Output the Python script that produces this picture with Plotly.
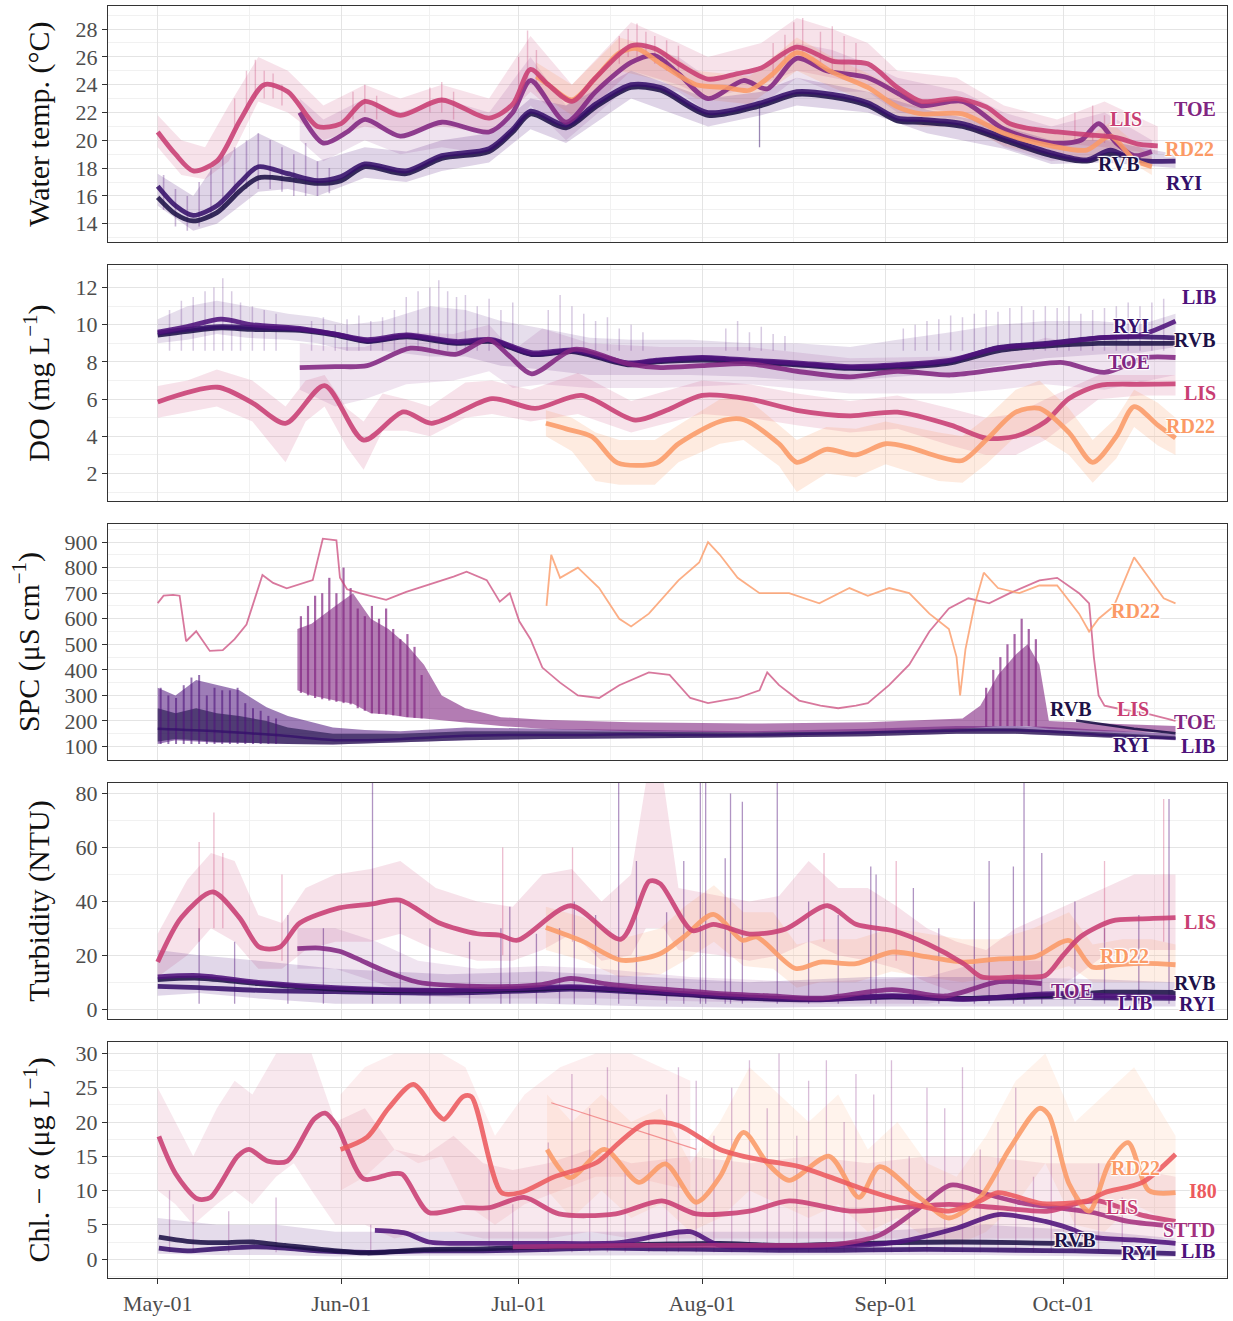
import pandas as pd
import plotly.graph_objects as go
from plotly.subplots import make_subplots

BASE = pd.Timestamp("2021-05-01")

SITE_COLORS = {
    "RVB": "#1d1147", "RYI": "#35106a", "LIB": "#4f127b", "TOE": "#812581",
    "STTD": "#a3307e", "LIS": "#c83e73", "I80": "#ec5a5e", "RD22": "#fb9a66",
}

# ---------------- Water temperature (deg C) ----------------
T_LIS_DAYS = [0, 3, 6, 10, 14, 18, 22, 27, 31, 35, 41, 48, 56, 60, 63, 66, 70, 74, 80, 84, 88, 93, 98, 102, 108, 114, 120, 125, 129, 135, 140, 144, 148, 152, 157, 162, 166, 169]
T_LIS = [20.6, 19.0, 17.8, 18.5, 21.5, 24.0, 23.5, 21.0, 21.2, 22.8, 21.8, 22.9, 21.6, 22.6, 25.1, 24.0, 22.8, 24.5, 26.8, 26.6, 25.5, 24.4, 24.8, 25.2, 26.7, 25.7, 25.5, 23.8, 22.8, 23.0, 22.4, 21.2, 20.8, 20.6, 20.4, 20.2, 19.7, 19.6]
T_LIS_RAW_DAYS = [0, 4, 8, 12, 17, 22, 28, 35, 41, 48, 56, 63, 70, 80, 88, 93, 102, 108, 114, 120, 125, 135, 143, 152, 160, 169]
T_LIS_LO = [19.5, 17.5, 17.2, 18.5, 22.8, 22.0, 20.0, 21.0, 20.5, 21.0, 20.5, 23.5, 21.0, 25.0, 24.0, 23.0, 24.0, 25.0, 24.5, 24.0, 22.5, 22.0, 20.3, 19.8, 19.5, 19.0]
T_LIS_HI = [21.8, 20.0, 19.5, 22.5, 26.0, 25.0, 22.5, 24.0, 23.0, 24.0, 23.0, 27.5, 24.0, 28.5, 27.0, 26.0, 27.0, 28.8, 28.0, 27.0, 25.0, 24.5, 22.5, 21.5, 22.8, 21.0]
T_PINK_SPIKE_DAYS = [13, 15, 16.5, 18, 19.5, 21, 33, 35, 37, 46, 48, 50, 61, 62.5, 64, 78, 79.5, 81, 82.5, 84, 86, 88, 104, 106, 107.5, 109, 112, 114, 116, 118, 155, 158, 160]
T_PINK_SPIKE_TOP = [23.0, 25.0, 25.8, 25.0, 24.8, 24.0, 23.5, 24.0, 23.2, 23.8, 24.2, 23.5, 26.0, 27.9, 26.5, 27.5, 28.0, 28.4, 27.8, 27.5, 27.2, 26.8, 27.0, 27.6, 28.5, 28.8, 27.8, 28.2, 27.5, 27.0, 22.0, 22.5, 21.8]
T_PINK_SPIKE_BASE = [20.5, 22.0, 23.0, 23.0, 23.0, 22.5, 21.5, 22.0, 21.5, 22.0, 22.0, 21.5, 22.5, 24.0, 24.0, 25.5, 26.0, 26.0, 26.0, 25.5, 25.0, 24.5, 24.5, 25.5, 26.0, 26.0, 25.5, 25.0, 25.0, 24.5, 20.0, 20.0, 19.8]

T_TOE_DAYS = [24, 28, 32, 35, 41, 48, 56, 60, 63, 69, 74, 80, 84, 88, 93, 99, 103, 108, 113, 120, 125, 129, 136, 143, 151, 156, 159, 162, 165, 168]
T_TOE = [22.0, 19.8, 20.6, 21.5, 20.3, 21.3, 20.6, 22.0, 24.3, 21.3, 23.5, 25.6, 26.1, 24.8, 23.0, 24.3, 23.7, 25.9, 25.0, 24.5, 23.4, 22.5, 22.8, 20.8, 19.8, 20.0, 21.2, 19.8, 18.9, 19.2]
T_TOE_RAW_DAYS = [24, 28, 35, 41, 48, 56, 63, 69, 80, 88, 93, 102, 108, 114, 120, 125, 136, 143, 151, 160, 168]
T_TOE_LO = [20.0, 18.5, 20.0, 19.0, 19.5, 19.0, 22.5, 20.0, 24.0, 23.5, 22.0, 22.5, 24.5, 23.5, 23.5, 22.0, 21.5, 19.5, 18.5, 19.0, 18.5]
T_TOE_HI = [23.0, 21.5, 23.0, 22.0, 23.0, 22.0, 26.0, 22.5, 27.0, 26.0, 24.5, 25.0, 27.0, 26.5, 25.5, 24.5, 23.5, 22.0, 21.0, 22.0, 20.0]

T_RD22_DAYS = [64, 66, 70, 74, 78, 81, 85, 91, 96, 100, 104, 108, 114, 120, 125, 129, 136, 143, 151, 157, 161, 165, 168]
T_RD22 = [24.6, 24.0, 22.9, 24.5, 26.3, 26.6, 25.5, 24.0, 23.8, 23.6, 24.8, 26.3, 24.9, 23.8, 22.4, 21.9, 21.9, 20.5, 19.6, 19.3, 20.3, 18.6, 18.1]
T_RD22_RAW_DAYS = [64, 70, 78, 85, 91, 100, 108, 114, 120, 129, 136, 143, 151, 157, 161, 168]
T_RD22_LO = [23.5, 21.8, 25.0, 24.3, 23.0, 22.6, 25.0, 23.8, 22.8, 21.0, 21.0, 19.6, 18.8, 18.5, 19.3, 17.5]
T_RD22_HI = [25.6, 24.0, 27.4, 26.6, 25.0, 24.6, 27.4, 26.0, 24.8, 22.9, 22.9, 21.5, 20.5, 20.2, 21.3, 18.8]

T_RYI_DAYS = [0, 3, 6, 10, 14, 17, 22, 27, 31, 35, 42, 48, 56, 60, 63, 69, 74, 80, 85, 93, 102, 108, 114, 120, 125, 129, 136, 143, 151, 157, 161, 165, 172]
T_RYI = [16.7, 15.3, 14.6, 15.3, 17.0, 18.1, 17.6, 17.1, 17.4, 18.3, 17.8, 18.9, 19.4, 20.8, 22.1, 21.1, 22.6, 24.0, 23.8, 22.0, 22.7, 23.5, 23.3, 22.7, 21.6, 21.5, 21.2, 20.2, 19.1, 18.6, 19.3, 18.6, 18.5]
T_RVB_DAYS = [0, 3, 6, 10, 14, 17, 22, 27, 31, 35, 42, 48, 56, 60, 63, 69, 74, 80, 85, 93, 102, 108, 114, 120, 125, 129, 136, 143, 151, 157, 161, 166]
T_RVB = [15.9, 14.7, 14.2, 14.8, 16.4, 17.3, 17.2, 16.9, 17.1, 18.1, 17.6, 18.7, 19.2, 20.6, 21.9, 20.9, 22.4, 23.8, 23.6, 21.8, 22.5, 23.3, 23.1, 22.5, 21.4, 21.3, 21.0, 20.0, 18.9, 18.5, 19.0, 18.6]
T_DARK_RAW_DAYS = [0, 6, 10, 17, 22, 27, 35, 42, 48, 56, 63, 69, 80, 93, 102, 108, 120, 130, 143, 151, 160, 172]
T_DARK_LO = [15.3, 13.5, 14.0, 16.3, 16.5, 16.0, 17.3, 17.0, 17.8, 18.4, 20.8, 19.8, 23.0, 21.0, 21.8, 22.5, 22.0, 20.5, 19.4, 18.3, 18.4, 18.0]
T_DARK_HI = [17.6, 16.0, 18.5, 20.5, 19.5, 18.5, 19.5, 19.2, 20.0, 20.5, 23.0, 22.5, 25.0, 23.0, 23.5, 24.5, 23.5, 22.2, 21.0, 20.0, 20.0, 19.0]
T_DARK_SPIKE_DAYS = [1, 3, 5, 7, 9, 11, 13, 15, 17, 19, 21, 23, 25, 27, 29]
T_DARK_SPIKE_TOP = [17.5, 16.5, 16.0, 17.0, 18.0, 19.0, 19.5, 20.0, 20.5, 20.0, 19.5, 19.0, 19.8, 18.5, 18.0]
T_DARK_SPIKE_BASE = [15.0, 13.8, 13.5, 13.8, 14.5, 15.0, 16.0, 16.5, 16.5, 16.5, 16.3, 16.0, 16.0, 16.0, 16.2]

T_LABEL_SITES = ["LIS", "TOE", "RD22", "RVB", "RYI"]
T_LABEL_DAYS = [163.6, 175.3, 174.4, 162.4, 173.4]
T_LABEL_VALUES = [21.55, 22.26, 19.35, 18.28, 16.93]

# ---------------- Dissolved oxygen (mg/L) ----------------
D_DARK_DAYS = [0, 5, 10.7, 16, 24, 30, 35.4, 42.1, 50.5, 56.5, 63.2, 70.4, 79.5, 84.3, 92, 100, 108, 117, 125, 134, 142, 150, 159, 166, 172]
D_LIB = [9.6, 9.9, 10.3, 10.0, 9.8, 9.5, 9.2, 9.45, 9.1, 9.2, 8.5, 8.65, 7.95, 8.1, 8.25, 8.1, 7.95, 7.75, 7.85, 8.1, 8.75, 8.95, 9.3, 9.45, 10.2]
D_RYI = [9.55, 9.75, 9.9, 9.85, 9.75, 9.5, 9.13, 9.4, 9.04, 9.16, 8.42, 8.6, 7.9, 8.06, 8.2, 8.05, 7.9, 7.7, 7.8, 8.05, 8.77, 9.0, 9.3, 9.35, 9.3]
D_RVB = [9.45, 9.65, 9.83, 9.75, 9.7, 9.45, 9.1, 9.35, 9.0, 9.1, 8.4, 8.55, 7.85, 8.0, 8.1, 8.0, 7.85, 7.65, 7.7, 7.95, 8.6, 8.85, 9.0, 9.0, 9.0]
D_DARK_RAW_DAYS = [0, 5, 10, 15, 22, 27, 32, 38, 46, 52, 58, 65, 73, 80, 90, 100, 108, 117, 125, 134, 142, 150, 159, 166, 172]
D_DARK_LO = [9.0, 9.2, 9.5, 9.3, 9.2, 9.0, 8.6, 8.6, 8.3, 8.3, 7.8, 7.6, 7.3, 7.3, 7.3, 7.2, 7.0, 7.0, 7.2, 7.4, 7.8, 8.2, 8.4, 8.5, 8.8]
D_DARK_HI = [10.3, 11.0, 11.3, 11.0, 10.6, 10.4, 10.0, 10.2, 11.0, 10.8, 10.2, 9.8, 9.3, 9.2, 9.2, 9.0, 9.0, 8.8, 9.2, 9.6, 10.0, 10.2, 10.2, 10.0, 10.6]
D_SPIKE_DAYS = [2, 4, 6, 8, 9.5, 11, 12.5, 14, 16, 18, 20, 26, 28, 30, 32, 34, 36, 38, 40, 42, 44, 46, 47.5, 49, 50.5, 52, 54, 56, 58, 60, 66, 68, 70, 72, 74, 76, 78, 80, 82, 96, 98, 100, 102, 104, 106, 126, 128, 130, 132, 134, 136, 138, 140, 142, 144, 146, 148, 150, 152, 154, 156, 158, 160, 162, 164, 166, 168, 170]
D_SPIKE_TOP = [10.8, 11.3, 11.5, 11.8, 12.0, 12.5, 11.8, 11.2, 11.0, 10.8, 10.6, 10.2, 10.4, 10.0, 10.3, 10.5, 10.2, 10.4, 10.8, 11.5, 11.8, 12.0, 12.4, 11.8, 11.5, 11.6, 11.0, 11.4, 10.8, 11.2, 10.8, 11.6, 11.0, 10.6, 10.2, 10.4, 9.8, 10.0, 9.6, 9.8, 10.2, 9.6, 9.9, 9.5, 9.4, 9.8, 10.0, 10.2, 10.3, 10.5, 10.4, 10.6, 10.8, 10.7, 10.9, 11.0, 10.8, 11.0, 10.9, 11.0, 10.6, 10.8, 10.9, 11.0, 11.2, 11.0, 11.2, 11.4]

D_TOE_DAYS = [24, 30, 35.4, 42.7, 50.5, 55.9, 59.5, 63.2, 70.4, 79.5, 85, 92, 100, 108, 117, 125, 134, 142, 147, 153, 160, 167, 172]
D_TOE = [7.7, 7.75, 7.8, 8.74, 8.42, 9.22, 8.3, 7.36, 8.68, 7.9, 7.7, 7.8, 7.9, 7.5, 7.2, 7.5, 7.3, 7.6, 7.8, 7.97, 7.44, 8.24, 8.24]
D_TOE_RAW_DAYS = [24, 30, 35, 42, 50, 56, 60, 65, 73, 85, 100, 117, 134, 142, 150, 160, 172]
D_TOE_LO = [6.5, 5.6, 6.0, 6.8, 7.0, 7.5, 6.6, 6.8, 6.6, 6.6, 6.8, 6.3, 6.3, 6.5, 6.8, 6.5, 7.3]
D_TOE_HI = [9.0, 8.8, 8.8, 9.6, 9.5, 10.0, 8.6, 9.8, 9.0, 8.8, 8.8, 8.2, 8.3, 8.5, 9.3, 8.8, 9.2]

D_LIS_DAYS = [0, 10.1, 16, 21.6, 28.2, 34.8, 41.5, 46.3, 56.5, 63.8, 71.6, 80.7, 86, 92, 100, 108, 117, 125, 134, 140, 145, 150, 154, 159, 166, 172]
D_LIS = [5.85, 6.64, 5.8, 4.7, 6.73, 3.8, 5.31, 4.7, 6.03, 5.5, 6.2, 4.87, 5.4, 6.2, 6.0, 5.4, 5.1, 5.3, 4.6, 3.9, 4.0, 4.78, 6.03, 6.73, 6.8, 6.82]
D_LIS_RAW_DAYS = [0, 5, 10, 16, 21.6, 25, 28.2, 32, 34.8, 38, 42, 46, 52, 56.5, 63, 71, 80, 92, 100, 108, 117, 125, 134, 140, 145, 150, 159, 166, 172]
D_LIS_LO = [5.0, 5.3, 5.6, 4.8, 2.6, 4.8, 5.6, 3.4, 2.2, 4.3, 4.3, 4.0, 5.0, 5.2, 4.8, 5.2, 4.2, 5.2, 5.0, 4.6, 4.2, 4.4, 3.5, 3.0, 3.0, 3.8, 6.0, 6.2, 6.2]
D_LIS_HI = [6.7, 7.0, 7.6, 7.0, 5.6, 7.0, 7.3, 5.5, 4.8, 6.3, 6.0, 5.6, 6.9, 7.0, 6.5, 7.4, 5.9, 7.0, 6.8, 6.3, 5.9, 6.2, 5.5, 5.0, 5.2, 6.0, 7.3, 7.3, 7.3]

D_RD22_DAYS = [65.6, 69, 73.4, 77.7, 84.3, 88, 95, 99, 105, 108, 113, 118, 123, 127, 132, 136, 140, 145, 149, 154, 158, 162, 165, 169, 172]
D_RD22 = [4.7, 4.4, 3.98, 2.57, 2.57, 3.6, 4.8, 4.9, 3.6, 2.6, 3.3, 3.0, 3.6, 3.4, 2.9, 2.7, 3.8, 5.3, 5.5, 4.2, 2.6, 4.0, 5.6, 4.6, 3.9]
D_RD22_RAW_DAYS = [65.6, 70, 74, 78, 84, 88, 95, 99, 105, 108, 113, 118, 123, 132, 136, 140, 145, 149, 154, 158, 162, 165, 169, 172]
D_RD22_LO = [4.0, 3.2, 1.6, 1.4, 1.4, 2.6, 3.6, 3.8, 2.4, 1.0, 2.0, 1.8, 2.5, 1.6, 1.5, 2.5, 4.0, 4.0, 3.0, 1.5, 2.8, 4.5, 3.5, 3.0]
D_RD22_HI = [5.4, 5.0, 4.2, 3.8, 3.8, 4.6, 6.0, 6.2, 4.6, 3.8, 4.5, 4.4, 4.8, 4.2, 4.0, 5.0, 6.5, 7.0, 5.5, 3.8, 5.0, 6.5, 5.8, 5.0]

D_LABEL_SITES = ["LIB", "RYI", "RVB", "TOE", "LIS", "RD22"]
D_LABEL_DAYS = [176.0, 164.5, 175.3, 164.1, 176.1, 174.6]
D_LABEL_VALUES = [11.52, 9.93, 9.18, 8.01, 6.31, 4.55]

# ---------------- Specific conductance (uS/cm) ----------------
S_LIS_DAYS = [0, 1, 2.6, 3.7, 4.8, 6.5, 8.8, 11, 13, 15, 17.7, 19.5, 21.8, 24, 26.2, 27.9, 30.2, 30.8, 32, 34.1, 36, 38.6, 42, 46.5, 50, 52.2, 55.6, 57.8, 59.5, 61.1, 63, 65, 68, 71, 74.6, 78, 83, 86.5, 90, 93, 98, 101.7, 103, 105, 108.4, 112, 115, 118, 120, 123.6, 127, 130.4, 133.7, 137, 140.5, 144, 149, 152, 155.7, 157.4, 158.2, 159, 160, 163, 167, 172]
S_LIS = [661, 690, 693, 690, 512, 551, 474, 477, 520, 577, 771, 740, 719, 735, 751, 913, 907, 760, 715, 700, 690, 674, 705, 738, 765, 784, 751, 667, 700, 590, 520, 409, 350, 300, 290, 340, 390, 380, 290, 270, 290, 320, 390, 340, 280, 260, 250, 260, 270, 340, 420, 550, 640, 680, 660, 700, 750, 760, 700, 660, 450, 300, 260, 245, 230, 200]

S_RD22_DAYS = [65.7, 66.5, 68, 71, 74.6, 78, 80, 83, 88, 91.5, 93, 95, 98, 101.7, 106.7, 111.8, 116.9, 120, 123.6, 127, 130.4, 133.7, 135, 135.6, 136.5, 138, 139.6, 142, 145.6, 149, 152, 155.7, 157.4, 159, 161.6, 165, 167.5, 170, 172]
S_RD22 = [650, 850, 760, 800, 720, 600, 570, 620, 750, 820, 900, 850, 760, 700, 700, 660, 720, 690, 720, 700, 620, 560, 450, 300, 480, 650, 780, 720, 700, 730, 730, 620, 550, 600, 650, 840, 760, 680, 660]

S_TOE_DAYS = [23.6, 26, 30, 33, 36, 39, 42, 45, 48, 52, 58, 65, 80, 100, 120, 136, 139, 142, 145, 147, 149, 150.6, 160, 172]
S_TOE_HI = [560, 580, 650, 700, 600, 560, 500, 420, 300, 250, 215, 205, 195, 190, 195, 210, 260, 380, 460, 500, 420, 200, 190, 180]
S_TOE_LO = [320, 300, 280, 267, 230, 225, 215, 210, 205, 195, 180, 170, 160, 155, 160, 170, 175, 180, 180, 180, 175, 170, 160, 155]
S_TOE_SPIKE_DAYS = [24.2, 25.4, 26.6, 27.8, 29.0, 30.2, 31.4, 32.6, 33.8, 35.0, 36.2, 37.4, 38.6, 39.8, 41.0, 42.2, 43.4, 44.6, 140.0, 141.2, 142.4, 143.6, 144.8, 146.0, 147.2, 148.4]
S_TOE_SPIKE_TOP = [610, 650, 690, 700, 760, 700, 800, 720, 640, 610, 650, 600, 640, 560, 520, 540, 490, 380, 330, 400, 450, 500, 540, 600, 560, 520]
S_TOE_SPIKE_BASE = [310, 300, 290, 285, 280, 275, 270, 265, 250, 240, 230, 228, 225, 222, 220, 215, 212, 210, 178, 180, 180, 180, 180, 180, 180, 178]

S_DARK_DAYS = [0, 3, 6.5, 10, 13.8, 18.4, 22, 29.6, 35, 41, 52, 65, 80, 100, 120, 135, 145, 150, 160, 172]
S_LIB_HI = [330, 300, 360, 340, 320, 254, 220, 175, 165, 160, 175, 170, 165, 160, 170, 180, 180, 178, 165, 150]
S_LIB_LO = [110, 125, 120, 115, 115, 113, 110, 108, 110, 117, 125, 130, 132, 135, 140, 150, 150, 145, 135, 125]
S_RVB_HI = [250, 230, 250, 230, 220, 200, 175, 150, 150, 150, 160, 160, 158, 155, 160, 172, 172, 165, 155, 140]
S_RVB_LO = [120, 130, 125, 118, 115, 113, 110, 108, 112, 118, 125, 130, 133, 135, 140, 150, 150, 145, 135, 128]
S_DARK_SPIKE_DAYS = [0.5, 1.8, 3.1, 4.4, 5.7, 7.0, 8.3, 9.6, 10.9, 12.2, 13.5, 14.8, 16.1, 17.4, 18.7, 20.0]
S_DARK_SPIKE_TOP = [330, 300, 290, 340, 370, 380, 300, 330, 320, 320, 330, 270, 250, 240, 220, 210]
S_RYI_DAYS = [0, 10, 20, 30, 40, 50, 60, 70, 80, 90, 100, 110, 120, 130, 140, 150, 160, 172]
S_RYI = [170, 160, 145, 125, 128, 140, 145, 145, 148, 145, 145, 150, 155, 160, 165, 160, 145, 132]
S_RVB_TAIL_DAYS = [155.2, 160, 165, 172]
S_RVB_TAIL = [202, 185, 170, 152]

S_LABEL_SITES = ["RD22", "RVB", "LIS", "TOE", "RYI", "LIB"]
S_LABEL_DAYS = [165.3, 154.3, 164.8, 175.3, 164.5, 175.8]
S_LABEL_VALUES = [629, 245, 245, 196, 105, 104]

# ---------------- Turbidity (NTU) ----------------
U_LIS_DAYS = [0, 4, 9.3, 13.8, 17.2, 20.6, 24, 30.7, 36, 40.9, 47.6, 54, 57.75, 60.8, 69.8, 78.3, 83.1, 84.9, 90.3, 93.9, 100, 106, 113.2, 118, 124.1, 130.1, 136.2, 139.2, 145.2, 150, 153, 156, 161.3, 166, 172]
U_LIS = [17.5, 34, 43.5, 34, 23, 23, 32, 37.6, 39, 40.5, 32, 28, 27.5, 25.6, 38.4, 26, 47.5, 46.6, 29.2, 31.5, 27.9, 29.7, 38.4, 31.5, 29.2, 24.2, 16.9, 12.0, 12.0, 12.5, 20, 27, 32.8, 33.5, 34]
U_LIS_RAW_DAYS = [0, 5, 9, 13, 17, 21, 25, 30, 36, 41, 47, 54, 60, 65, 70, 75, 80, 82.5, 85.5, 88, 95, 100, 105, 110, 115, 120, 125, 130, 135, 140, 145, 150, 155, 160, 165, 172]
U_LIS_LO = [12, 20, 30, 25, 15, 15, 22, 25, 25, 28, 22, 18, 18, 22, 28, 18, 20, 30, 30, 22, 20, 18, 20, 25, 20, 18, 15, 10, 6, 5, 5, 6, 12, 20, 22, 22]
U_LIS_HI = [28, 48, 58, 55, 35, 32, 45, 50, 52, 55, 45, 40, 38, 50, 52, 40, 50, 84, 84, 45, 42, 40, 42, 55, 45, 45, 38, 30, 25, 22, 30, 35, 40, 45, 50, 50]

U_RD22_DAYS = [65.6, 72, 78.3, 84.9, 89, 93.9, 98.8, 101.2, 107.8, 112, 118, 124.1, 130.1, 136.2, 142.2, 148.2, 154, 157.9, 162, 167, 172]
U_RD22 = [30.3, 25, 18.2, 20.6, 27, 35.2, 25.6, 26.8, 15.1, 17.5, 16.9, 21.2, 19.4, 17.5, 18.7, 19.4, 25.5, 15.7, 16.5, 17, 16.5]
U_RD22_RAW_DAYS = [65.6, 72, 78, 85, 89, 94, 99, 104, 108, 112, 118, 124, 130, 136, 142, 148, 154, 158, 163, 168, 172]
U_RD22_LO = [22, 18, 12, 13, 18, 25, 16, 15, 8, 10, 10, 14, 12, 10, 12, 12, 16, 10, 10, 10, 10]
U_RD22_HI = [38, 34, 26, 30, 38, 46, 36, 36, 24, 26, 26, 30, 28, 26, 26, 30, 36, 24, 26, 26, 24]

U_TOE_DAYS = [23.6, 27.4, 30.7, 34, 37.5, 44, 54, 64.5, 69.8, 75.8, 85, 93.9, 103, 112, 124.1, 133.1, 142.2, 149.4]
U_TOE = [22.5, 22.7, 21.5, 18.5, 15, 10, 8.5, 9.0, 11.4, 9.4, 7.5, 6.0, 5.0, 4.1, 7.3, 4.9, 10.2, 9.5]
U_TOE_RAW_DAYS = [23.6, 30, 37, 44, 54, 65, 75, 90, 110, 130, 140, 149.4]
U_TOE_LO = [15, 15, 10, 5, 4, 4, 4, 3, 2, 2, 5, 5]
U_TOE_HI = [30, 30, 25, 18, 15, 16, 15, 12, 10, 12, 18, 18]

U_DARK_DAYS = [0, 7, 17, 30, 49, 64.5, 69.8, 87.9, 100, 112, 124.1, 136.2, 148.2, 155, 160, 166, 172]
U_LIB = [12, 12.5, 10, 8, 7, 8, 8.4, 6, 4.5, 3.7, 5.0, 3.7, 5.5, 5.8, 5.0, 4.8, 4.5]
U_RVB = [11, 11.5, 9.5, 7.5, 6.8, 7.5, 8.0, 5.8, 4.3, 3.8, 4.8, 4.0, 5.0, 5.5, 6.3, 6.3, 6.2]
U_RYI = [8.5, 8, 7, 6.5, 6, 7, 7.5, 5.5, 4, 3.5, 4.5, 3.8, 4.5, 4.5, 4.2, 4.1, 4.0]
U_DARK_RAW_DAYS = [0, 7, 17, 30, 49, 65, 83, 100, 120, 142, 160, 172]
U_DARK_LO = [5, 6, 4, 2, 2, 2, 1, 0.5, 1, 1, 1, 1]
U_DARK_HI = [22, 20, 18, 15, 13, 14, 12, 10, 12, 12, 11, 10]

U_SPIKE_DAYS = [7, 13, 22, 28, 36.3, 41, 46, 52.7, 58, 59.5, 64, 67.9, 70.4, 74, 77.9, 80.9, 86, 88.9, 91.7, 92.6, 95.9, 96.8, 98.8, 104.7, 110, 115, 120.5, 121.4, 127.7, 132, 138, 140.5, 144.6, 146.4, 149.4, 155, 160, 165.8, 170.9]
U_SPIKE_TOP = [30, 25, 35, 30, 84, 40, 30, 25, 30, 38, 28, 30, 40, 35, 84, 55, 36, 55, 84, 84, 56, 80, 77, 84, 40, 35, 53, 50, 45, 30, 40, 55, 53, 84, 58, 40, 30, 35, 78]
U_PINK_SPIKE_DAYS = [7, 9.5, 11, 21, 58.3, 70.1, 112.6, 124.8, 160, 170]
U_PINK_SPIKE_TOP = [62, 73, 58, 50, 60, 60, 58, 55, 55, 78]
U_PINK_SPIKE_BASE = [25, 30, 30, 18, 20, 25, 25, 18, 25, 25]

U_LABEL_SITES = ["LIS", "RD22", "RVB", "TOE", "LIB", "RYI"]
U_LABEL_DAYS = [176.1, 163.3, 175.3, 154.5, 165.1, 175.6]
U_LABEL_VALUES = [32.5, 19.7, 9.9, 6.9, 2.2, 1.8]

# ---------------- Chlorophyll-a (ug/L) ----------------
C_LIS_DAYS = [0.2, 3, 6.7, 8.9, 13.5, 15.4, 18.6, 21.9, 26.4, 28.3, 30.3, 34.8, 39.3, 41.3, 45.8, 51.6, 56.1, 61.9, 67.8, 77.4, 85.2, 91, 100, 106.7, 117, 125.3, 133.7, 142, 150.6, 155.7, 159, 166, 172]
C_LIS = [17.9, 12.5, 8.8, 9.0, 15.0, 16.0, 14.3, 14.3, 20.4, 21.3, 19.4, 11.7, 12.4, 12.4, 6.8, 7.5, 7.5, 9.0, 6.6, 6.6, 8.5, 6.6, 7.0, 8.5, 7.0, 7.5, 8.0, 7.5, 7.0, 8.2, 8.5, 6.5, 5.5]
C_LIS_RAW_DAYS = [0, 3, 6, 10, 13, 16, 20, 23, 26, 30, 35, 40, 45, 50, 55, 60, 66, 73, 80, 90, 100, 110, 120, 130, 140, 150, 160, 172]
C_LIS_LO = [10, 8, 5, 8, 10, 8, 12, 14, 10, 5, 5, 3, 4, 4, 3, 3, 3, 4, 3, 3, 3, 3, 3, 3, 3, 3, 3, 3]
C_LIS_HI = [25, 20, 15, 22, 26, 24, 30, 30, 30, 20, 22, 16, 15, 18, 14, 13, 14, 16, 14, 15, 14, 15, 14, 15, 15, 14, 14, 12]

C_I80_DAYS = [30.9, 35.4, 39, 43.2, 47.1, 48.4, 51.6, 53, 58.1, 61.3, 67, 74.2, 78, 82.6, 88, 95, 101.7, 108.4, 113.5, 120, 125, 133.7, 139, 142, 149.5, 157, 160, 166.4, 172]
C_I80 = [16, 17.8, 22, 25.5, 21.3, 20.4, 23.7, 23.7, 9.7, 9.7, 12, 14.1, 17, 19.9, 19.5, 16, 14.5, 13.5, 12, 10, 8.7, 7.0, 8.5, 9.7, 8.1, 8.5, 9.7, 11.2, 15.3]
C_I80_THIN_DAYS = [66.5, 91]
C_I80_THIN = [22.8, 16.0]
C_I80_RAW_DAYS = [30.9, 35, 40, 44, 48, 52, 57, 62, 68, 74, 80, 90]
C_I80_LO = [10, 12, 16, 14, 15, 8, 5, 8, 10, 12, 12, 10]
C_I80_HI = [24, 28, 30, 30, 30, 28, 18, 24, 28, 30, 30, 26]

C_RD22_DAYS = [65.8, 69.7, 75.5, 81.3, 85.8, 91, 95, 99, 103, 106.7, 113.5, 118.5, 122, 128.7, 133.7, 139, 143.9, 149, 150.6, 154, 157.4, 160.8, 164, 167.5, 172]
C_RD22 = [16.0, 11.9, 16.0, 11.2, 13.9, 8.3, 12, 18.5, 14, 11.5, 15, 9, 13.5, 9, 6, 9, 16, 22, 21, 11, 7, 14, 17, 10, 9.7]
C_RD22_RAW_DAYS = [65.8, 70, 75, 80, 85, 90, 95, 100, 105, 110, 115, 120, 125, 130, 135, 140, 145, 150, 155, 160, 165, 172]
C_RD22_LO = [10, 6, 10, 6, 8, 4, 6, 10, 8, 6, 8, 4, 6, 3, 2, 4, 8, 14, 5, 4, 8, 5]
C_RD22_HI = [24, 20, 24, 20, 22, 14, 20, 28, 24, 20, 24, 16, 20, 14, 12, 18, 26, 30, 20, 24, 28, 18]

C_STTD_DAYS = [60, 80, 100, 115, 122, 128, 134, 140, 146, 152, 158, 164, 172]
C_STTD = [1.8, 2.0, 2.0, 2.2, 3.5, 7.0, 10.8, 9.5, 8.2, 7.5, 6.8, 5.5, 4.8]

C_LIB_DAYS = [36.7, 41.9, 45.8, 55, 65, 78, 85, 90, 95, 110, 125, 135, 142, 150, 154, 158, 165, 172]
C_LIB = [4.2, 3.8, 2.5, 2.3, 2.3, 2.4, 3.5, 4.0, 2.0, 1.8, 2.5, 4.5, 6.5, 5.5, 4.5, 3.2, 2.8, 2.3]

C_RVB_DAYS = [0.2, 5, 10, 16, 21.5, 27, 35.4, 45, 55, 65, 75, 85, 95, 105, 115, 125, 135, 145, 155, 158]
C_RVB = [3.2, 2.6, 2.4, 2.5, 2.0, 1.5, 0.9, 1.4, 1.5, 1.8, 2.0, 2.2, 2.3, 2.0, 2.2, 2.4, 2.5, 2.4, 2.2, 2.0]
C_RYI_DAYS = [0.2, 5, 10, 16, 21.5, 27, 35.4, 45, 55, 65, 75, 85, 95, 105, 115, 125, 135, 145, 155, 165, 172]
C_RYI = [1.6, 1.2, 1.5, 1.8, 1.6, 1.2, 1.0, 1.2, 1.2, 1.4, 1.6, 1.5, 1.4, 1.3, 1.3, 1.4, 1.4, 1.3, 1.2, 1.0, 0.8]
C_DARK_RAW_DAYS = [0, 10, 20, 30, 40, 60, 80, 100, 120, 140, 160, 172]
C_DARK_LO = [0.8, 0.6, 0.6, 0.4, 0.5, 0.6, 0.6, 0.6, 0.6, 0.6, 0.4, 0.3]
C_DARK_HI = [6, 5, 5, 4, 4, 4, 4, 4, 4, 5, 4, 3]

C_SPIKE_DAYS = [2, 6, 12, 20, 36, 56, 60, 66, 70, 73, 76, 79, 83, 86, 88, 91, 94, 97, 100, 103, 105, 108, 110, 113, 116, 118, 121, 124, 127, 130, 133, 136, 139, 142, 145, 148, 151, 155, 159, 163]
C_SPIKE_TOP = [10, 8, 7, 9, 5, 15, 8, 17, 27, 22, 28, 13, 20, 24, 28, 26, 18, 25, 29, 22, 30, 18, 26, 29, 20, 27, 24, 29, 15, 25, 22, 28, 16, 20, 25, 12, 18, 10, 14, 9]

C_LABEL_SITES = ["RD22", "I80", "LIS", "STTD", "RVB", "RYI", "LIB"]
C_LABEL_DAYS = [165.3, 176.6, 162.9, 174.3, 155.0, 165.8, 175.8]
C_LABEL_VALUES = [13.3, 10.0, 7.67, 4.3, 2.75, 0.87, 1.25]

# ---------------- axes ----------------
MONTH_TICKS = ["2021-05-01", "2021-06-01", "2021-07-01", "2021-08-01", "2021-09-01", "2021-10-01"]
MID_MONTHS = ["2021-05-16 12:00", "2021-06-16", "2021-07-16 12:00", "2021-08-16 12:00", "2021-09-16", "2021-10-16 12:00"]
Y_TITLES = ["Water temp. (°C)", "DO (mg L<sup>−1</sup>)", "SPC (μS cm<sup>−1</sup>)",
            "Turbidity (NTU)", "Chl. − α (μg L<sup>−1</sup>)"]


def to_dates(days):
    return [BASE + pd.Timedelta(days=float(d)) for d in days]


def rgba(hex_color, alpha):
    h = hex_color.lstrip("#")
    r, g, b = int(h[0:2], 16), int(h[2:4], 16), int(h[4:6], 16)
    return f"rgba({r},{g},{b},{alpha})"


fig = make_subplots(rows=5, cols=1, shared_xaxes=True, vertical_spacing=23 / 1288)


def add_band(row, days, lo, hi, site, alpha):
    x = to_dates(days) + to_dates(days[::-1])
    y = list(hi) + list(lo[::-1])
    fig.add_trace(go.Scatter(
        x=x, y=y, mode="lines", fill="toself",
        fillcolor=rgba(SITE_COLORS[site], alpha),
        line=dict(width=0, color=rgba(SITE_COLORS[site], 0)),
        hoverinfo="skip", showlegend=False), row=row, col=1)


def add_spikes(row, days, base, top, site, alpha, width=1.3):
    xs, ys = [], []
    for d, b, t in zip(days, base, top):
        dt = BASE + pd.Timedelta(days=float(d))
        xs += [dt, dt, None]
        ys += [b, t, None]
    fig.add_trace(go.Scatter(
        x=xs, y=ys, mode="lines",
        line=dict(width=width, color=rgba(SITE_COLORS[site], alpha)),
        hoverinfo="skip", showlegend=False), row=row, col=1)


def add_line(row, days, vals, site, width=4.8, alpha=0.88, shape="spline"):
    fig.add_trace(go.Scatter(
        x=to_dates(days), y=vals, mode="lines",
        line=dict(width=width, color=rgba(SITE_COLORS[site], alpha),
                  shape=shape, smoothing=0.8 if shape == "spline" else None),
        hoverinfo="skip", showlegend=False), row=row, col=1)


# --- raw records (light) ---
add_band(1, T_LIS_RAW_DAYS, T_LIS_LO, T_LIS_HI, "LIS", 0.15)
add_band(1, T_TOE_RAW_DAYS, T_TOE_LO, T_TOE_HI, "TOE", 0.13)
add_band(1, T_RD22_RAW_DAYS, T_RD22_LO, T_RD22_HI, "RD22", 0.2)
add_band(1, T_DARK_RAW_DAYS, T_DARK_LO, T_DARK_HI, "LIB", 0.18)
add_spikes(1, T_PINK_SPIKE_DAYS, T_PINK_SPIKE_BASE, T_PINK_SPIKE_TOP, "LIS", 0.3, 1.4)
add_spikes(1, T_DARK_SPIKE_DAYS, T_DARK_SPIKE_BASE, T_DARK_SPIKE_TOP, "LIB", 0.3, 1.6)
add_spikes(1, [101.7], [22.5], [19.5], "RYI", 0.5)

add_band(2, D_DARK_RAW_DAYS, D_DARK_LO, D_DARK_HI, "LIB", 0.14)
add_spikes(2, D_SPIKE_DAYS, [8.6] * len(D_SPIKE_DAYS), D_SPIKE_TOP, "LIB", 0.22, 1.5)
add_band(2, D_TOE_RAW_DAYS, D_TOE_LO, D_TOE_HI, "TOE", 0.12)
add_band(2, D_LIS_RAW_DAYS, D_LIS_LO, D_LIS_HI, "LIS", 0.15)
add_band(2, D_RD22_RAW_DAYS, D_RD22_LO, D_RD22_HI, "RD22", 0.2)

add_band(3, S_DARK_DAYS, S_LIB_LO, S_LIB_HI, "LIB", 0.55)
add_band(3, S_DARK_DAYS, S_RVB_LO, S_RVB_HI, "RVB", 0.6)
add_spikes(3, S_DARK_SPIKE_DAYS, S_LIB_LO[:1] * len(S_DARK_SPIKE_DAYS), S_DARK_SPIKE_TOP, "LIB", 0.6, 2.0)
add_band(3, S_TOE_DAYS, S_TOE_LO, S_TOE_HI, "TOE", 0.6)
add_spikes(3, S_TOE_SPIKE_DAYS, S_TOE_SPIKE_BASE, S_TOE_SPIKE_TOP, "TOE", 0.7, 2.2)
add_line(3, S_RYI_DAYS, S_RYI, "RYI", width=2.5, alpha=0.8)
add_line(3, S_RVB_TAIL_DAYS, S_RVB_TAIL, "RVB", width=2.5, alpha=0.9, shape="linear")
add_line(3, S_LIS_DAYS, S_LIS, "LIS", width=1.8, alpha=0.7, shape="linear")
add_line(3, S_RD22_DAYS, S_RD22, "RD22", width=1.8, alpha=0.8, shape="linear")

add_band(4, U_LIS_RAW_DAYS, U_LIS_LO, U_LIS_HI, "LIS", 0.15)
add_band(4, U_RD22_RAW_DAYS, U_RD22_LO, U_RD22_HI, "RD22", 0.17)
add_band(4, U_TOE_RAW_DAYS, U_TOE_LO, U_TOE_HI, "TOE", 0.12)
add_band(4, U_DARK_RAW_DAYS, U_DARK_LO, U_DARK_HI, "LIB", 0.17)
add_spikes(4, U_SPIKE_DAYS, [2] * len(U_SPIKE_DAYS), U_SPIKE_TOP, "LIB", 0.45)
add_spikes(4, U_PINK_SPIKE_DAYS, U_PINK_SPIKE_BASE, U_PINK_SPIKE_TOP, "LIS", 0.35)

add_band(5, C_LIS_RAW_DAYS, C_LIS_LO, C_LIS_HI, "LIS", 0.12)
add_band(5, C_I80_RAW_DAYS, C_I80_LO, C_I80_HI, "I80", 0.1)
add_band(5, C_RD22_RAW_DAYS, C_RD22_LO, C_RD22_HI, "RD22", 0.12)
add_band(5, C_DARK_RAW_DAYS, C_DARK_LO, C_DARK_HI, "LIB", 0.15)
add_spikes(5, C_SPIKE_DAYS, [1] * len(C_SPIKE_DAYS), C_SPIKE_TOP, "TOE", 0.3)
add_line(5, C_I80_THIN_DAYS, C_I80_THIN, "I80", width=1.2, alpha=0.6, shape="linear")

# --- smoothed records (thick) ---
add_line(1, T_RVB_DAYS, T_RVB, "RVB")
add_line(1, T_RYI_DAYS, T_RYI, "RYI")
add_line(1, T_TOE_DAYS, T_TOE, "TOE")
add_line(1, T_RD22_DAYS, T_RD22, "RD22")
add_line(1, T_LIS_DAYS, T_LIS, "LIS")

add_line(2, D_DARK_DAYS, D_RVB, "RVB")
add_line(2, D_DARK_DAYS, D_RYI, "RYI")
add_line(2, D_DARK_DAYS, D_LIB, "LIB")
add_line(2, D_TOE_DAYS, D_TOE, "TOE")
add_line(2, D_LIS_DAYS, D_LIS, "LIS")
add_line(2, D_RD22_DAYS, D_RD22, "RD22")

add_line(4, U_DARK_DAYS, U_RYI, "RYI")
add_line(4, U_DARK_DAYS, U_RVB, "RVB")
add_line(4, U_DARK_DAYS, U_LIB, "LIB")
add_line(4, U_TOE_DAYS, U_TOE, "TOE")
add_line(4, U_RD22_DAYS, U_RD22, "RD22")
add_line(4, U_LIS_DAYS, U_LIS, "LIS")

add_line(5, C_RYI_DAYS, C_RYI, "RYI")
add_line(5, C_RVB_DAYS, C_RVB, "RVB")
add_line(5, C_LIB_DAYS, C_LIB, "LIB")
add_line(5, C_STTD_DAYS, C_STTD, "STTD")
add_line(5, C_LIS_DAYS, C_LIS, "LIS")
add_line(5, C_RD22_DAYS, C_RD22, "RD22")
add_line(5, C_I80_DAYS, C_I80, "I80")

# --- end-of-series site labels ---
LABEL_SETS = [
    (T_LABEL_SITES, T_LABEL_DAYS, T_LABEL_VALUES),
    (D_LABEL_SITES, D_LABEL_DAYS, D_LABEL_VALUES),
    (S_LABEL_SITES, S_LABEL_DAYS, S_LABEL_VALUES),
    (U_LABEL_SITES, U_LABEL_DAYS, U_LABEL_VALUES),
    (C_LABEL_SITES, C_LABEL_DAYS, C_LABEL_VALUES),
]
HALO = "1px 1px 1px #fff, -1px -1px 1px #fff, 1px -1px 1px #fff, -1px 1px 1px #fff"
for r, (sites, days, vals) in enumerate(LABEL_SETS, start=1):
    suffix = "" if r == 1 else str(r)
    for s, d, v in zip(sites, days, vals):
        fig.add_annotation(
            x=BASE + pd.Timedelta(days=d), y=v, xref="x" + suffix, yref="y" + suffix,
            text=f"<b>{s}</b>", showarrow=False, xanchor="center", yanchor="middle",
            font=dict(family="Liberation Serif", size=20, color=SITE_COLORS[s], shadow=HALO))

# --- axes ---
Y_RANGES = [[12.67, 29.66], [0.51, 13.22], [47, 971], [-3.65, 84.0], [-2.75, 31.7]]
Y_DTICK = [2, 2, 100, 20, 5]
Y_MINOR = [1, 1, 50, 10, 2.5]
Y_TICK0 = [14, 2, 100, 0, 0]

x_range = [BASE - pd.Timedelta(days=8.4), BASE + pd.Timedelta(days=180.7)]
for r in range(1, 6):
    fig.update_yaxes(
        row=r, col=1, range=Y_RANGES[r - 1], dtick=Y_DTICK[r - 1], tick0=Y_TICK0[r - 1],
        ticks="outside", ticklen=5, tickwidth=1, tickcolor="#333333",
        showline=True, mirror=True, linecolor="#333333", linewidth=1.2,
        showgrid=True, gridcolor="#e4e4e4", gridwidth=1.1, zeroline=False,
        minor=dict(dtick=Y_MINOR[r - 1], tick0=Y_TICK0[r - 1], showgrid=True,
                   gridcolor="#f1f1f1", gridwidth=0.7, ticks=""),
        tickfont=dict(family="Liberation Serif", size=22, color="#4d4d4d"),
        title=dict(text=Y_TITLES[r - 1], standoff=16,
                   font=dict(family="Liberation Serif", size=30, color="#111111")))
    fig.update_xaxes(
        row=r, col=1, range=x_range, type="date",
        tickmode="array", tickvals=MONTH_TICKS, tickformat="%b-%d",
        showline=True, mirror=True, linecolor="#333333", linewidth=1.2,
        showgrid=True, gridcolor="#e4e4e4", gridwidth=1.1, zeroline=False,
        minor=dict(tickmode="array", tickvals=MID_MONTHS, showgrid=True,
                   gridcolor="#f1f1f1", gridwidth=0.7, ticks=""),
        showticklabels=(r == 5), ticks="outside" if r == 5 else "",
        ticklen=5, tickcolor="#333333",
        tickfont=dict(family="Liberation Serif", size=22, color="#4d4d4d"))

fig.update_layout(
    width=1233, height=1321, margin=dict(l=108, r=5, t=5, b=28),
    plot_bgcolor="white", paper_bgcolor="white", showlegend=False,
    font=dict(family="Liberation Serif"))

fig.write_html("out.html")
